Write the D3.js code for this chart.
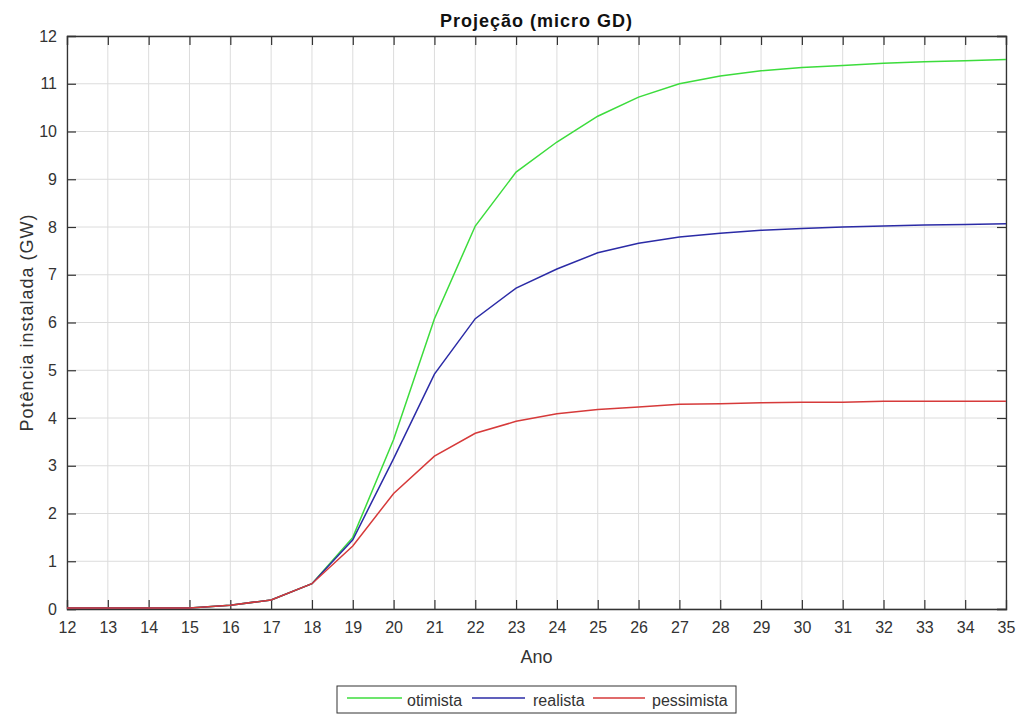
<!DOCTYPE html>
<html>
<head>
<meta charset="utf-8">
<script src="https://cdn.jsdelivr.net/npm/d3@7"></script>
<style>
  body { margin: 0; background: #fff; }
  text { font-family: "Liberation Sans", Arial, sans-serif; }
</style>
</head>
<body>
<div class="canvas"></div>
<script>
var margin = {top: 36, right: 14, bottom: 106, left: 67},
    width = 1020 - margin.left - margin.right,
    height = 715 - margin.top - margin.bottom;

// anos (eixo x) e séries
var anos = [12, 13, 14, 15, 16, 17, 18, 19, 20, 21, 22, 23, 24, 25, 26, 27, 28, 29, 30, 31, 32, 33, 34, 35];
var otimista = [0.02, 0.02, 0.02, 0.02, 0.08, 0.19, 0.53, 1.50, 3.55, 6.08, 8.02, 9.15, 9.78, 10.32, 10.72, 11.00, 11.16, 11.27, 11.34, 11.38, 11.43, 11.46, 11.48, 11.51];
var realista = [0.02, 0.02, 0.02, 0.02, 0.08, 0.19, 0.53, 1.45, 3.15, 4.92, 6.08, 6.72, 7.12, 7.46, 7.66, 7.79, 7.87, 7.93, 7.97, 8.00, 8.02, 8.04, 8.05, 8.07];
var pessimista = [0.02, 0.02, 0.02, 0.02, 0.08, 0.19, 0.53, 1.32, 2.42, 3.20, 3.68, 3.93, 4.09, 4.18, 4.23, 4.29, 4.30, 4.32, 4.33, 4.33, 4.35, 4.35, 4.35, 4.35];
var series = ["otimista", "realista", "pessimista"];
var cores = ["#3cdc3c", "#2b2ba6", "#d63a3a"];
var xTicks = d3.range(12, 36);
var yTicks = d3.range(0, 13);

var svg = d3.select(".canvas").append("svg")
    .attr("width", width + margin.left + margin.right)
    .attr("height", height + margin.top + margin.bottom)
  .append("g")
    .attr("transform", "translate(" + margin.left + "," + margin.top + ")");

var x = d3.scaleLinear().domain([12, 35]).range([0, width]);
var y = d3.scaleLinear().domain([0, 12]).range([height, 0]);

// grade
svg.append("g").selectAll("line").data(xTicks).enter().append("line")
    .attr("x1", function(d) { return x(d); }).attr("x2", function(d) { return x(d); })
    .attr("y1", 0).attr("y2", height)
    .style("stroke", "#dcdcdc").style("stroke-width", 1);
svg.append("g").selectAll("line").data(yTicks).enter().append("line")
    .attr("y1", function(d) { return y(d); }).attr("y2", function(d) { return y(d); })
    .attr("x1", 0).attr("x2", width)
    .style("stroke", "#dcdcdc").style("stroke-width", 1);

// eixos com ticks para dentro
var tk = 9;
var xAxis = svg.append("g").attr("transform", "translate(0," + height + ")")
    .call(d3.axisBottom(x).tickValues(xTicks).tickSize(-tk).tickPadding(13).tickFormat(d3.format("d")));
var yAxis = svg.append("g")
    .call(d3.axisLeft(y).tickValues(yTicks).tickSize(-tk).tickPadding(10).tickFormat(d3.format("d")));
var xTop = svg.append("g")
    .call(d3.axisTop(x).tickValues(xTicks).tickSize(-tk).tickFormat(""));
var yRight = svg.append("g").attr("transform", "translate(" + width + ",0)")
    .call(d3.axisRight(y).tickValues(yTicks).tickSize(-tk).tickFormat(""));

[xAxis, yAxis, xTop, yRight].forEach(function(a) {
  a.select(".domain").style("stroke", "#333").style("stroke-width", 1.3);
  a.selectAll(".tick line").style("stroke", "#333").style("stroke-width", 1.2);
  a.selectAll(".tick text").style("font-size", "16px").style("fill", "#333")
    .style("font-family", "'Liberation Sans', Arial, sans-serif");
});
xAxis.select(".tick:last-of-type line").remove();
yAxis.select(".tick:last-of-type line").remove();

// linhas
var dados = [otimista, realista, pessimista];
var line = d3.line()
    .x(function(d, i) { return x(anos[i]); })
    .y(function(d) { return y(d); });

svg.selectAll(".serie").data(dados).enter().append("path")
    .attr("class", "serie")
    .attr("d", line)
    .style("fill", "none")
    .style("stroke", function(d, i) { return cores[i]; })
    .style("stroke-width", 1.5);

// títulos
svg.append("text")
    .attr("x", width / 2).attr("y", -9)
    .attr("text-anchor", "middle")
    .style("font-size", "18px").style("font-weight", "bold").style("letter-spacing", "1px")
    .style("fill", "#111")
    .text("Projeção (micro GD)");
svg.append("text")
    .attr("x", width / 2).attr("y", height + 54)
    .attr("text-anchor", "middle")
    .style("font-size", "18px").style("fill", "#333")
    .text("Ano");
svg.append("text")
    .attr("transform", "translate(-34," + (height / 2) + ") rotate(-90)")
    .attr("text-anchor", "middle")
    .style("font-size", "18px").style("letter-spacing", "1px").style("fill", "#333")
    .text("Potência instalada (GW)");

// legenda
var leg = svg.append("g").attr("transform", "translate(" + (337 - margin.left) + "," + (686 - margin.top) + ")");
leg.append("rect")
    .attr("width", 399).attr("height", 27)
    .style("fill", "#fff").style("stroke", "#333").style("stroke-width", 1);
var legX = [10, 135, 256];
var legW = [55, 53, 52];
var legT = [70, 196, 315];
series.forEach(function(s, i) {
  leg.append("line")
    .attr("x1", legX[i]).attr("x2", legX[i] + legW[i])
    .attr("y1", 12).attr("y2", 12)
    .style("stroke", cores[i]).style("stroke-width", 1.5);
  leg.append("text")
    .attr("x", legT[i]).attr("y", 20)
    .style("font-size", "16px").style("fill", "#333")
    .text(s);
});
</script>
</body>
</html>
